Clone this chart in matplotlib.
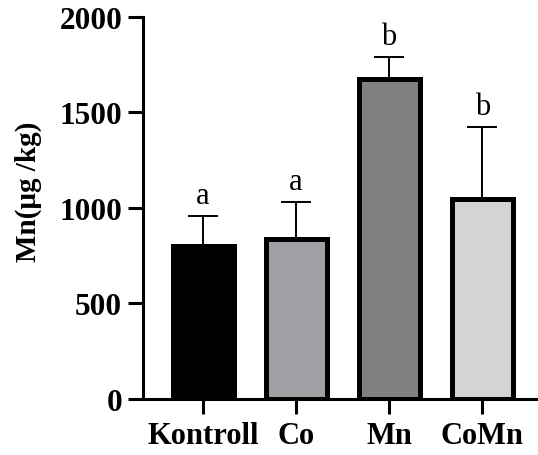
import matplotlib
matplotlib.use("Agg")
import matplotlib.pyplot as plt

categories = ["Kontroll", "Co", "Mn", "CoMn"]
means = [801, 838, 1673, 1047]
errors = [157, 193, 117, 377]
letters = ["a", "a", "b", "b"]
colors = ["#000000", "#a0a0a4", "#808080", "#d4d4d4"]

plt.rcParams['font.family'] = ['Liberation Serif', 'DejaVu Serif']

fig = plt.figure(figsize=(5.38, 4.56), dpi=100)
ax = fig.add_axes([0.266, 0.123, 0.734, 0.838])

x = list(range(len(categories)))
ax.bar(x, means, width=0.656, color=colors, edgecolor="black", linewidth=3.6, zorder=2)
ax.errorbar(x, means, yerr=[[0]*4, errors], fmt="none", ecolor="black",
            elinewidth=1.4, capsize=11, capthick=1.4, zorder=1)
for xi, m, e, l in zip(x, means, errors, letters):
    ax.annotate(l, (xi, m + e), xytext=(0, 9), textcoords="offset points",
                ha="center", va="baseline", fontsize=22)

ax.set_xlim(-0.645, 3.6)
ax.set_ylim(0, 2000)
ax.set_yticks([0, 500, 1000, 1500, 2000])
ax.set_xticks(x)
ax.set_xticklabels(categories, fontsize=22, fontweight="bold")
for lab in ax.get_yticklabels():
    lab.set_fontsize(22.5)
    lab.set_fontweight("bold")

fig.text(28/538, 1 - 192/456, "Mn(μg /kg)", rotation=90, ha="center", va="center",
         fontsize=21, fontweight="bold")

for s in ["top", "right"]:
    ax.spines[s].set_visible(False)
for s in ["left", "bottom"]:
    ax.spines[s].set_linewidth(2.2)
ax.tick_params(axis="both", width=2.2, length=11, direction="out")
ax.tick_params(axis="x", pad=5)
ax.tick_params(axis="y", pad=4)

fig.savefig("out.png", dpi=100)
